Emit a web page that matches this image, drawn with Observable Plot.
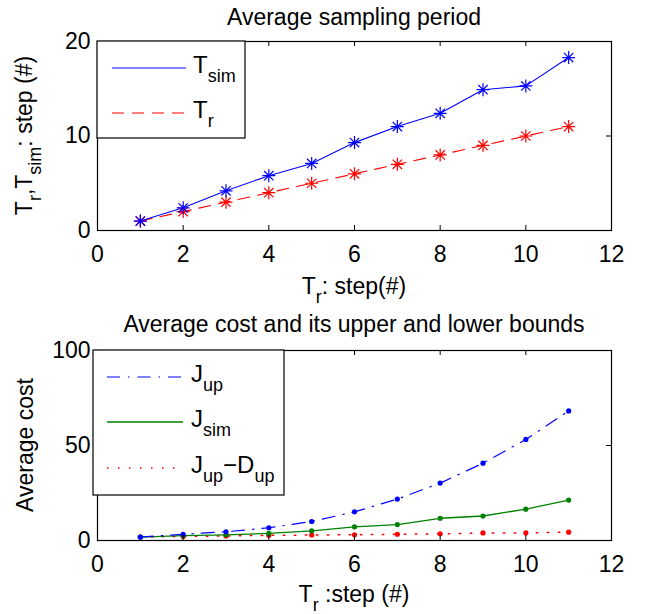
<!DOCTYPE html>
<html>
<head>
<meta charset="utf-8">
<script src="https://cdn.jsdelivr.net/npm/d3@7"></script>
<script src="https://cdn.jsdelivr.net/npm/@observablehq/plot@0.6"></script>
<style>
  body { margin: 0; background: #fff; overflow: hidden; }
  #chart { width: 665px; }
  #chart svg { display: block; overflow: visible; }
</style>
</head>
<body>
<div id="chart"></div>
<script>
// ---- data ----
const steps = [1, 2, 3, 4, 5, 6, 7, 8, 9, 10, 11];
const tSim = [1.0, 2.4, 4.2, 5.8, 7.1, 9.3, 11.0, 12.4, 14.9, 15.3, 18.3];
const tR = [1, 2, 3, 4, 5, 6, 7, 8, 9, 10, 11];
const jUp = [1.8, 3.3, 4.6, 6.7, 10.0, 15.1, 21.8, 30.2, 40.7, 53.2, 68.2];
const jSim = [1.8, 2.6, 3.0, 3.7, 5.1, 7.2, 8.4, 11.7, 12.9, 16.5, 21.3];
const jUpMinusDUp = [1.8, 2.1, 2.4, 2.7, 2.9, 3.0, 3.3, 3.5, 4.0, 4.0, 4.4];
const xTicks = [0, 2, 4, 6, 8, 10, 12];
const yTicksTop = [0, 10, 20];
const yTicksBottom = [0, 50, 100];
const titleTop = "Average sampling period";
const titleBottom = "Average cost and its upper and lower bounds";

const FONT = "'Liberation Sans', Arial, Helvetica, sans-serif";
const FS = 23;
const SUB = 18;
const SHIFT = 9;

const topRows = steps.map((s, i) => ({step: s, tSim: tSim[i], tR: tR[i]}));
const botRows = steps.map((s, i) => ({step: s, jUp: jUp[i], jSim: jSim[i], jLow: jUpMinusDUp[i]}));

// MATLAB-like asterisk marker (plus + cross)
const star = {
  draw(ctx, size) {
    const r = Math.sqrt(size / Math.PI);
    const d = r * 0.72;
    ctx.moveTo(-r, 0); ctx.lineTo(r, 0);
    ctx.moveTo(0, -r); ctx.lineTo(0, r);
    ctx.moveTo(-d, -d); ctx.lineTo(d, d);
    ctx.moveTo(-d, d); ctx.lineTo(d, -d);
  }
};

function frameMarks(yTicks, fh, fw) {
  return [
    Plot.tickX(xTicks, {x: d => d, insetTop: fh - 5, stroke: "#000", strokeWidth: 1}),
    Plot.tickX(xTicks, {x: d => d, insetBottom: fh - 5, stroke: "#000", strokeWidth: 1}),
    Plot.tickY(yTicks, {y: d => d, insetRight: fw - 5, stroke: "#000", strokeWidth: 1}),
    Plot.tickY(yTicks, {y: d => d, insetLeft: fw - 5, stroke: "#000", strokeWidth: 1}),
    Plot.axisX({ticks: xTicks, tickSize: 0, tickPadding: 15, fontSize: FS, label: null}),
    Plot.axisY({ticks: yTicks, tickSize: 0, tickPadding: 7, fontSize: FS, label: null}),
    Plot.frame({stroke: "#000", strokeWidth: 1.2})
  ];
}

// rich text helper: parts = [[text, isSub], ...]
function rich(sel, parts) {
  let sub = false;
  for (const [txt, isSub] of parts) {
    const t = sel.append("tspan").text(txt);
    if (isSub && !sub) { t.attr("dy", SHIFT).attr("font-size", SUB); }
    else if (!isSub && sub) { t.attr("dy", -SHIFT); }
    else if (isSub) { t.attr("font-size", SUB); }
    sub = isSub;
  }
}

function addText(svg, x, y, parts, opts = {}) {
  const t = d3.select(svg).append("text")
    .attr("font-family", FONT)
    .attr("font-size", opts.size || FS)
    .attr("fill", "#000")
    .attr("text-anchor", opts.anchor || "middle");
  if (opts.rotate) t.attr("transform", `translate(${x},${y}) rotate(-90)`);
  else t.attr("x", x).attr("y", y);
  rich(t, parts);
  return t;
}

function addLegend(svg, box, rows) {
  const g = d3.select(svg).append("g");
  g.append("rect")
    .attr("x", box.x).attr("y", box.y).attr("width", box.w).attr("height", box.h)
    .attr("fill", "#fff").attr("stroke", "#000").attr("stroke-width", 1.2);
  for (const r of rows) {
    g.append("line")
      .attr("x1", box.lx1).attr("x2", box.lx2).attr("y1", r.y).attr("y2", r.y)
      .attr("stroke", r.color).attr("stroke-width", r.width)
      .attr("stroke-dasharray", r.dash || null);
    const t = g.append("text")
      .attr("x", box.tx).attr("y", r.y + 5)
      .attr("text-anchor", "start")
      .attr("font-family", FONT).attr("font-size", 24).attr("fill", "#000");
    rich(t, r.parts);
  }
}

// ---- top plot ----
const p1 = Plot.plot({
  width: 665, height: 307,
  marginLeft: 97, marginRight: 54, marginTop: 41, marginBottom: 77,
  style: {fontFamily: FONT, background: "#fff", color: "#000", overflow: "visible"},
  x: {domain: [0, 12]},
  y: {domain: [0, 20]},
  marks: [
    Plot.line(topRows, {x: "step", y: "tR", stroke: "#ff0000", strokeWidth: 1.1, strokeDasharray: "12,8"}),
    Plot.line(topRows, {x: "step", y: "tSim", stroke: "#0000ff", strokeWidth: 1.1}),
    Plot.dot(topRows, {x: "step", y: "tR", symbol: star, r: 6.5, stroke: "#ff0000", fill: "none", strokeWidth: 1.2}),
    Plot.dot(topRows, {x: "step", y: "tSim", symbol: star, r: 6.5, stroke: "#0000ff", fill: "none", strokeWidth: 1.2}),
    ...frameMarks(yTicksTop, 189, 514)
  ]
});

addText(p1, 354, 25, [[titleTop, false]]);
addText(p1, 354, 294, [["T", false], ["r", true], [": step(#)", false]]);
addText(p1, 32, 135.5, [["T", false], ["r", true], [",T", false], ["sim", true], [": step (#)", false]], {rotate: true});
addLegend(p1, {x: 97, y: 41, w: 148, h: 97, lx1: 112, lx2: 186, tx: 193}, [
  {y: 68, color: "#0000ff", width: 1.1, parts: [["T", false], ["sim", true]]},
  {y: 113, color: "#ff0000", width: 1.1, dash: "12,8", parts: [["T", false], ["r", true]]}
]);

// ---- bottom plot ----
const p2 = Plot.plot({
  width: 665, height: 307,
  marginLeft: 97, marginRight: 54, marginTop: 43, marginBottom: 74,
  style: {fontFamily: FONT, background: "#fff", color: "#000", overflow: "visible"},
  x: {domain: [0, 12]},
  y: {domain: [0, 100]},
  marks: [
    Plot.line(botRows, {x: "step", y: "jLow", stroke: "#ff0000", strokeWidth: 1.5, strokeDasharray: "1.5,9.5"}),
    Plot.line(botRows, {x: "step", y: "jSim", stroke: "#008000", strokeWidth: 1.3}),
    Plot.line(botRows, {x: "step", y: "jUp", stroke: "#0000ff", strokeWidth: 1.2, strokeDasharray: "13,8,1.5,8"}),
    Plot.dot(botRows, {x: "step", y: "jLow", r: 2.6, fill: "#ff0000"}),
    Plot.dot(botRows, {x: "step", y: "jSim", r: 2.6, fill: "#008000"}),
    Plot.dot(botRows, {x: "step", y: "jUp", r: 2.6, fill: "#0000ff"}),
    ...frameMarks(yTicksBottom, 190, 514)
  ]
});

addText(p2, 354, 25, [[titleBottom, false]]);
addText(p2, 354, 295, [["T", false], ["r", true], [" :step (#)", false]]);
addText(p2, 33, 138, [["Average cost", false]], {rotate: true});
addLegend(p2, {x: 93, y: 43, w: 191, h: 145, lx1: 107, lx2: 183, tx: 191}, [
  {y: 70, color: "#0000ff", width: 1.2, dash: "13,8,1.5,8", parts: [["J", false], ["up", true]]},
  {y: 115, color: "#008000", width: 1.3, parts: [["J", false], ["sim", true]]},
  {y: 161, color: "#ff0000", width: 1.5, dash: "1.5,9.5", parts: [["J", false], ["up", true], ["\u2212D", false], ["up", true]]}
]);

const chart = document.getElementById("chart");
chart.appendChild(p1);
chart.appendChild(p2);
</script>
</body>
</html>
